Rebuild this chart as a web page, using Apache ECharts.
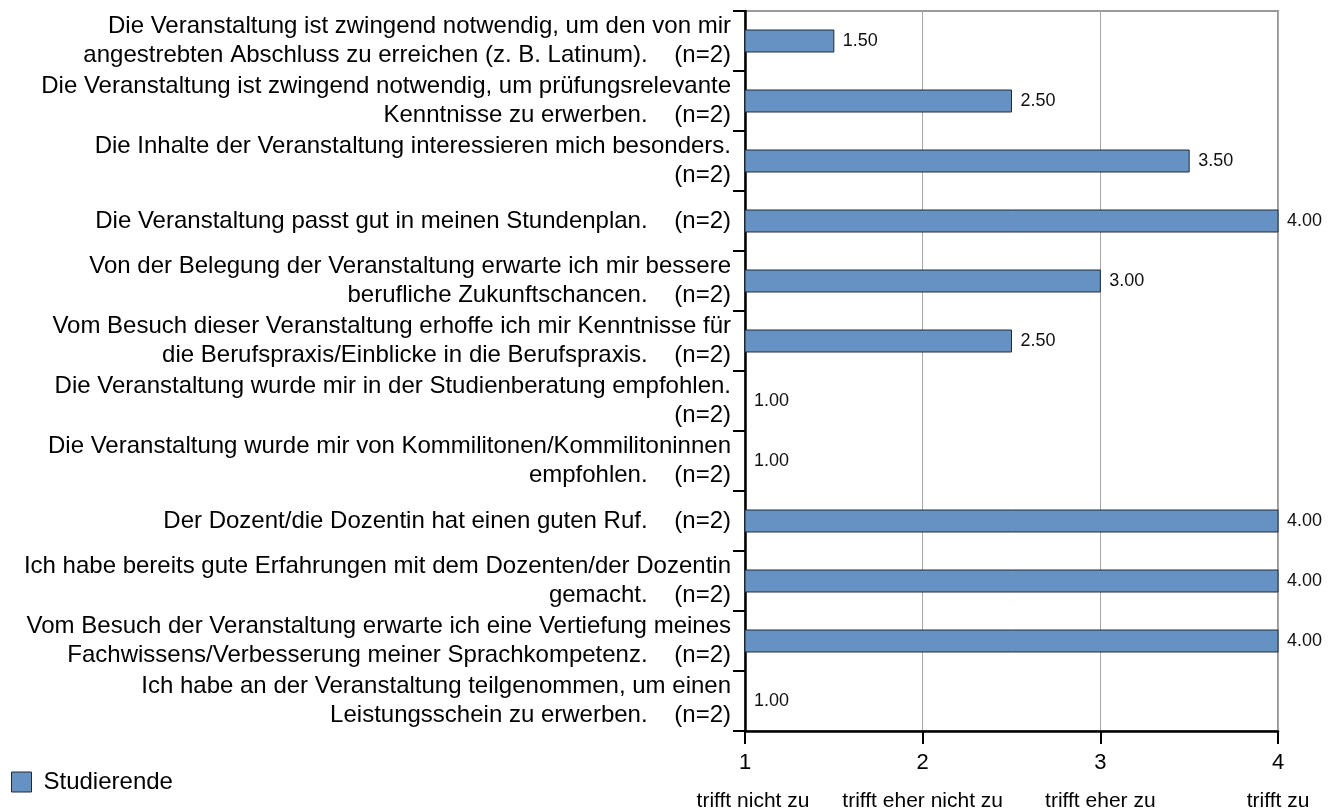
<!DOCTYPE html>
<html>
<head>
<meta charset="utf-8">
<script src="https://cdn.jsdelivr.net/npm/echarts@6/dist/echarts.min.js"></script>
<style>
  html, body { margin: 0; padding: 0; background: #fff; }
  #main { width: 1336px; height: 808px; }
</style>
</head>
<body>
<div id="main"></div>
<script>
// Aussagen (Kategorien), von oben nach unten
var statements = [
    'Die Veranstaltung ist zwingend notwendig, um den von mir\nangestrebten Abschluss zu erreichen (z. B. Latinum).    (n=2)',
    'Die Veranstaltung ist zwingend notwendig, um prüfungsrelevante\nKenntnisse zu erwerben.    (n=2)',
    'Die Inhalte der Veranstaltung interessieren mich besonders.\n(n=2)',
    'Die Veranstaltung passt gut in meinen Stundenplan.    (n=2)',
    'Von der Belegung der Veranstaltung erwarte ich mir bessere\nberufliche Zukunftschancen.    (n=2)',
    'Vom Besuch dieser Veranstaltung erhoffe ich mir Kenntnisse für\ndie Berufspraxis/Einblicke in die Berufspraxis.    (n=2)',
    'Die Veranstaltung wurde mir in der Studienberatung empfohlen.\n(n=2)',
    'Die Veranstaltung wurde mir von Kommilitonen/Kommilitoninnen\nempfohlen.    (n=2)',
    'Der Dozent/die Dozentin hat einen guten Ruf.    (n=2)',
    'Ich habe bereits gute Erfahrungen mit dem Dozenten/der Dozentin\ngemacht.    (n=2)',
    'Vom Besuch der Veranstaltung erwarte ich eine Vertiefung meines\nFachwissens/Verbesserung meiner Sprachkompetenz.    (n=2)',
    'Ich habe an der Veranstaltung teilgenommen, um einen\nLeistungsschein zu erwerben.    (n=2)'
];

// Mittelwerte Studierende
var studierende = [1.5, 2.5, 3.5, 4.0, 3.0, 2.5, 1.0, 1.0, 4.0, 4.0, 4.0, 1.0];

// Skala
var scaleValues = [1, 2, 3, 4];
var scaleNames = ['trifft nicht zu', 'trifft eher nicht zu', 'trifft eher zu', 'trifft zu'];

var FONT = '"Liberation Sans", Arial, Helvetica, sans-serif';
var BAR_COLOR = '#6592c3';
var BAR_BORDER = '#1f2b38';

var myChart = echarts.init(document.getElementById('main'));

// Balken beginnen bei 1 (Skalenanfang), nicht bei 0
function renderBar(params, api) {
    var val = api.value(0);
    var cat = api.value(1);
    var start = api.coord([scaleValues[0], cat]);
    var end = api.coord([val, cat]);
    var h = 22;
    var children = [];
    if (end[0] - start[0] > 0.5) {
        children.push({
            type: 'rect',
            shape: { x: start[0], y: start[1] - h / 2, width: end[0] - start[0], height: h },
            style: { fill: BAR_COLOR, stroke: BAR_BORDER, lineWidth: 1 }
        });
    }
    children.push({
        type: 'text',
        x: end[0] + 9,
        y: end[1],
        style: {
            text: val.toFixed(2),
            fill: '#111',
            fontSize: 18,
            fontFamily: FONT,
            align: 'left',
            verticalAlign: 'middle'
        }
    });
    return { type: 'group', children: children };
}

var option = {
    animation: false,
    textStyle: {
        fontFamily: FONT
    },
    grid: {
        left: 745,
        right: 58,
        top: 11,
        bottom: 77,
        containLabel: false,
        outerBoundsMode: 'none',
        show: true,
        borderColor: '#9a9a9a',
        borderWidth: 2
    },
    legend: {
        left: 11,
        top: 770,
        padding: 0,
        icon: 'rect',
        itemWidth: 20,
        itemHeight: 20,
        itemStyle: {
            color: BAR_COLOR,
            borderColor: BAR_BORDER,
            borderWidth: 1
        },
        textStyle: {
            fontSize: 24,
            color: '#000',
            padding: [0, 0, 0, 7]
        },
        data: ['Studierende']
    },
    xAxis: {
        type: 'value',
        min: 1,
        max: 4,
        interval: 1,
        axisLine: {
            show: true,
            lineStyle: { color: '#000', width: 2.5 }
        },
        axisTick: {
            show: true,
            length: 13,
            lineStyle: { color: '#000', width: 2 }
        },
        splitLine: {
            show: true,
            lineStyle: { color: '#a6a6a6', width: 1 }
        },
        axisLabel: {
            margin: 10,
            formatter: function (v) {
                var i = scaleValues.indexOf(v);
                var key = i === 0 ? 'f' : 'd';
                return '{n|' + v + '}\n{' + key + '|' + scaleNames[i] + '}';
            },
            rich: {
                n: { fontSize: 22, lineHeight: 44, color: '#000', fontFamily: FONT },
                d: { fontSize: 21, lineHeight: 32, color: '#000', fontFamily: FONT },
                f: { fontSize: 21, lineHeight: 32, color: '#000', fontFamily: FONT, padding: [0, 0, 0, 16] }
            }
        }
    },
    yAxis: {
        type: 'category',
        inverse: true,
        data: statements,
        axisLine: {
            show: true,
            lineStyle: { color: '#000', width: 2.5 }
        },
        axisTick: {
            show: true,
            length: 12,
            lineStyle: { color: '#000', width: 2 }
        },
        axisLabel: {
            interval: 0,
            margin: 14,
            fontSize: 24,
            lineHeight: 29,
            color: '#000',
            align: 'right'
        },
        splitLine: { show: false }
    },
    series: [
        {
            type: 'custom',
            name: 'Studierende',
            renderItem: renderBar,
            itemStyle: {
                color: BAR_COLOR,
                borderColor: BAR_BORDER,
                borderWidth: 1
            },
            encode: { x: 0, y: 1 },
            data: studierende.map(function (v, i) { return [v, i]; })
        }
    ]
};
myChart.setOption(option);
</script>
</body>
</html>
